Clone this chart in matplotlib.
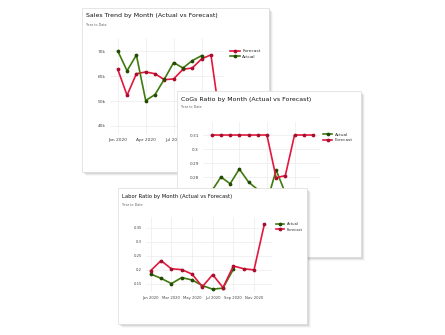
import matplotlib
matplotlib.use('Agg')
import matplotlib.pyplot as plt
from matplotlib.patches import Rectangle

W, H = 445, 335

months = ['Jan 2020', 'Feb 2020', 'Mar 2020', 'Apr 2020', 'May 2020', 'Jun 2020',
          'Jul 2020', 'Aug 2020', 'Sep 2020', 'Oct 2020', 'Nov 2020', 'Dec 2020']

# Sales (in thousands)
sales_actual = [70.2, 62.2, 68.5, 50.2, 52.6, 58.8, 65.5, 63.3, 66.3, 68.3]
sales_forecast = [62.8, 52.3, 61.0, 61.7, 61.0, 58.6, 58.9, 62.8, 63.3, 67.0, 68.6, 42.0]

# CoGs ratio
cogs_actual = [0.270, 0.280, 0.2752, 0.2857, 0.2764, 0.271, 0.262, 0.285, 0.2685]
cogs_forecast = [0.31, 0.31, 0.31, 0.31, 0.31, 0.31, 0.31, 0.2795, 0.281, 0.31, 0.31, 0.31]

# Labor ratio
labor_actual = [0.185, 0.170, 0.151, 0.1725, 0.164, 0.144, 0.131, 0.135, 0.2025]
labor_forecast = [0.1975, 0.233, 0.204, 0.201, 0.185, 0.140, 0.183, 0.137, 0.214, 0.204, 0.200, 0.363]

RED = '#e3173e'
RED_DARK = '#a80f2c'
GREEN = '#3f7a0e'
GREEN_DARK = '#234a05'


def fig_rect(x0, y0, x1, y1):
    # pixel box (top-left origin) -> figure fraction rect
    return [x0 / W, 1 - y1 / H, (x1 - x0) / W, (y1 - y0) / H]


def draw_card(fig, box, title, title_size):
    x0, y0, x1, y1 = box
    pad = 6
    ax = fig.add_axes(fig_rect(x0 - 1, y0 - 1, x1 + pad, y1 + pad))
    ax.set_xlim(x0 - 1, x1 + pad)
    ax.set_ylim(y1 + pad, y0 - 1)
    ax.axis('off')
    for off, a in [(4, 0.03), (3, 0.05), (2, 0.08), (1, 0.12)]:
        ax.add_patch(Rectangle((x0 + off, y0 + off), x1 - x0, y1 - y0,
                               facecolor='black', edgecolor='none', alpha=a))
    ax.add_patch(Rectangle((x0, y0), x1 - x0, y1 - y0, facecolor='white',
                           edgecolor='#dcdcdc', linewidth=0.5))
    ax.text(x0 + 4, y0 + 8, title, fontsize=title_size, color='#111111',
            va='center', ha='left')
    ax.text(x0 + 4, y0 + 16.5, 'Year to Date', fontsize=2.4, color='#666666',
            va='center', ha='left')


def draw_plot(fig, box, xlim, ylim, series, yticks, ylabels, xticks,
              tick_size, legend_xy):
    ax = fig.add_axes(fig_rect(*box))
    ax.set_facecolor('none')
    handles = {}
    for name, vals, color, dark in series:
        h, = ax.plot(range(len(vals)), vals, color=color, linewidth=1.2,
                     marker='o', markersize=1.7, markerfacecolor=dark,
                     markeredgecolor=dark, label=name)
        handles[name] = h
    ax.set_xlim(*xlim)
    ax.set_ylim(*ylim)
    ax.set_yticks(yticks)
    ax.set_yticklabels(ylabels)
    ax.set_xticks(xticks)
    ax.set_xticklabels([months[i] for i in xticks])
    ax.tick_params(length=0, labelsize=tick_size, labelcolor='#444444', pad=3)
    ax.grid(True, color='#ececec', linewidth=0.5)
    ax.set_axisbelow(True)
    for s in ax.spines.values():
        s.set_visible(False)
    lx, ly = legend_xy
    ax.legend(handles=[handles[s[0]] for s in series], loc='center left',
              bbox_to_anchor=(lx / W, 1 - ly / H), bbox_transform=fig.transFigure,
              frameon=False, fontsize=tick_size, handlelength=2.2,
              handletextpad=0.6, labelspacing=0.35, borderpad=0, borderaxespad=0,
              numpoints=1, labelcolor='#333333')
    return ax


fig = plt.figure(figsize=(W / 100, H / 100), dpi=100)
fig.patch.set_facecolor('white')

# Card 1: Sales
draw_card(fig, (82, 8, 269, 172), 'Sales Trend by Month (Actual vs Forecast)', 4.5)
draw_plot(fig, (110, 38, 224, 134), (-0.83, 11.4), (36.7, 75.4),
          [('Forecast', sales_forecast, RED, RED_DARK), ('Actual', sales_actual, GREEN, GREEN_DARK)],
          [40, 50, 60, 70], ['40k', '50k', '60k', '70k'], [0, 3, 6, 9],
          3.2, (230, 54))

# Card 2: CoGs
draw_card(fig, (177, 91, 361, 257), 'CoGs Ratio by Month (Actual vs Forecast)', 4.5)
draw_plot(fig, (203, 122, 320, 240), (-0.95, 11.77), (0.235, 0.3193),
          [('Actual', cogs_actual, GREEN, GREEN_DARK), ('Forecast', cogs_forecast, RED, RED_DARK)],
          [0.28, 0.29, 0.30, 0.31], ['0.28', '0.29', '0.3', '0.31'], [0, 3, 6, 9],
          3.1, (323, 137.5))

# Card 3: Labor
draw_card(fig, (118, 188, 307, 324), 'Labor Ratio by Month (Actual vs Forecast)', 3.75)
draw_plot(fig, (146, 217, 272, 292), (-0.455, 11.74), (0.121, 0.389),
          [('Actual', labor_actual, GREEN, GREEN_DARK), ('Forecast', labor_forecast, RED, RED_DARK)],
          [0.15, 0.20, 0.25, 0.30, 0.35], ['0.15', '0.2', '0.25', '0.3', '0.35'],
          [0, 2, 4, 6, 8, 10], 2.7, (276, 227))

fig.savefig('out.png', dpi=100, facecolor='white')
